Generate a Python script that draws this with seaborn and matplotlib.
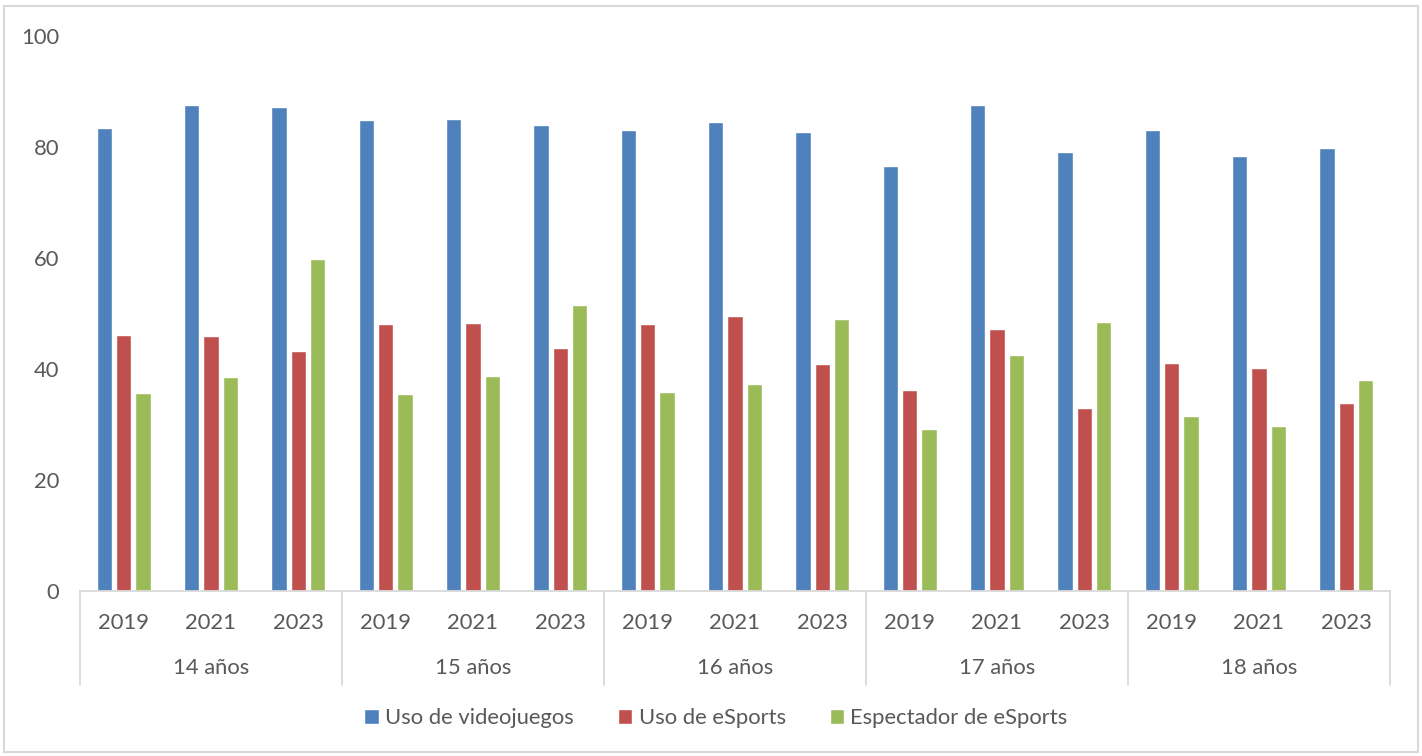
import matplotlib
matplotlib.use("Agg")
import matplotlib.pyplot as plt
from matplotlib.patches import Rectangle
import seaborn as sns
import pandas as pd

# Values (%) by age group and survey year
edades = ["14 años", "15 años", "16 años", "17 años", "18 años"]
anios = ["2019", "2021", "2023"]
series = ["Uso de videojuegos", "Uso de eSports", "Espectador de eSports"]

uso_videojuegos = [83.3, 87.6, 87.2, 84.9, 85.0, 84.0, 83.0, 84.4, 82.6,
                   76.6, 87.6, 79.0, 83.0, 78.3, 79.8]
uso_esports = [46.0, 45.9, 43.1, 48.1, 48.2, 43.7, 48.1, 49.5, 40.8,
               36.1, 47.2, 32.9, 41.0, 40.1, 33.8]
espectador_esports = [35.7, 38.5, 59.8, 35.4, 38.7, 51.5, 35.8, 37.2, 48.9,
                      29.2, 42.4, 48.4, 31.4, 29.7, 37.9]

colores = ["#4F81BD", "#C0504D", "#9BBB59"]
texto_gris = "#595959"
linea_gris = "#D9D9D9"
tam_fuente = 15.8

grupos = [f"{e} {a}" for e in edades for a in anios]
valores = [uso_videojuegos, uso_esports, espectador_esports]
df = pd.DataFrame({
    "grupo": [g for _ in series for g in grupos],
    "serie": [s for s in series for _ in grupos],
    "valor": [v for vals in valores for v in vals],
})

sns.set_theme(style="white")
plt.rcParams["font.family"] = ["Lato", "DejaVu Sans"]

fig = plt.figure(figsize=(14.22, 7.56), dpi=100)
ax = fig.add_axes([80 / 1422, 1 - 590.7 / 756, 1310 / 1422, 555 / 756])

sns.barplot(data=df, x="grupo", y="valor", hue="serie", order=grupos,
            hue_order=series, palette=colores, width=0.66, gap=0.2,
            saturation=1, ax=ax, errorbar=None)

handles, labels = ax.get_legend_handles_labels()
ax.get_legend().remove()

ax.set_ylim(0, 100)
ax.set_xlim(-0.5, len(grupos) - 0.5)
ax.set_yticks([0, 20, 40, 60, 80, 100])
ax.set_xticks(range(len(grupos)))
ax.set_xticklabels([a for _ in edades for a in anios])
ax.tick_params(axis="both", length=0, labelsize=tam_fuente, colors=texto_gris)
ax.tick_params(axis="x", pad=16)
ax.tick_params(axis="y", pad=15)
ax.set_xlabel("")
ax.set_ylabel("")

for lado in ["top", "right", "left"]:
    ax.spines[lado].set_visible(False)
ax.spines["bottom"].set_color(linea_gris)
ax.spines["bottom"].set_linewidth(1.3)

# Second level of the category axis: age groups with separators
trans = ax.get_xaxis_transform()
y_sep = -(685 - 590.7) / 555
for i in range(len(edades) + 1):
    x = i * len(anios) - 0.5
    ax.plot([x, x], [0, y_sep], transform=trans, color=linea_gris,
            lw=1.3, clip_on=False)
for i, e in enumerate(edades):
    ax.text(i * len(anios) + 1, -(668 - 590.7) / 555, e, transform=trans,
            ha="center", va="center", fontsize=tam_fuente, color=texto_gris)

fig.legend(handles, labels, loc="center", bbox_to_anchor=(716 / 1422, 1 - 718 / 756),
           ncol=3, frameon=False, fontsize=tam_fuente, labelcolor=texto_gris,
           handlelength=0.65, handleheight=0.65, handletextpad=0.3,
           columnspacing=2.0)

# Chart area border
fig.patches.append(Rectangle((4 / 1422, 4 / 756), 1 - 8 / 1422, 1 - 10 / 756,
                             transform=fig.transFigure, fill=False,
                             edgecolor=linea_gris, lw=1.5))

fig.savefig("out.png", dpi=100)
